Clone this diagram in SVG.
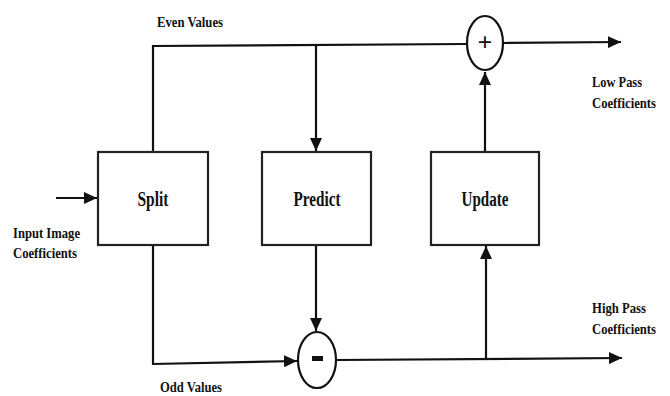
<svg xmlns="http://www.w3.org/2000/svg" width="670" height="396" viewBox="0 0 670 396">
<defs>
<marker id="ah" markerUnits="userSpaceOnUse" markerWidth="14" markerHeight="12" refX="13" refY="6" orient="auto">
<path d="M0,0 L13,6 L0,12 z" fill="#111"/>
</marker>
<style>
.box{fill:#fff;stroke:#222;stroke-width:2.2}
.op{fill:#fff;stroke:#111;stroke-width:2.2}
.ln{fill:none;stroke:#111;stroke-width:2.2}
.lbl{font-family:"Liberation Serif","Times New Roman",serif;font-weight:bold;font-size:15px;fill:#111}
.nm{font-family:"Liberation Serif","Times New Roman",serif;font-weight:bold;font-size:20px;fill:#111;text-anchor:middle}
.sym{font-family:"Liberation Serif","Times New Roman",serif;font-weight:bold;font-size:26px;fill:#111;text-anchor:middle}
</style>
</defs>
<rect width="670" height="396" fill="#fff"/>
<g id="connectors">
<polyline class="ln" points="153,152 153,46 466,44"/>
<line class="ln" x1="504" y1="43" x2="621" y2="42" marker-end="url(#ah)"/>
<line class="ln" x1="316" y1="46" x2="316" y2="151" marker-end="url(#ah)"/>
<line class="ln" x1="485" y1="152" x2="485" y2="72" marker-end="url(#ah)"/>
<line class="ln" x1="56" y1="198" x2="97" y2="198" marker-end="url(#ah)"/>
<polyline class="ln" points="153,245 153,364 297,361" marker-end="url(#ah)"/>
<line class="ln" x1="316" y1="245" x2="316" y2="331" marker-end="url(#ah)"/>
<line class="ln" x1="336" y1="360" x2="622" y2="358" marker-end="url(#ah)"/>
<line class="ln" x1="486" y1="359" x2="486" y2="246" marker-end="url(#ah)"/>
</g>
<g id="split">
<rect class="box" x="98" y="152" width="110" height="93"/>
<text class="nm" x="153" y="206" textLength="31" lengthAdjust="spacingAndGlyphs">Split</text>
</g>
<g id="predict">
<rect class="box" x="262" y="152" width="109" height="93"/>
<text class="nm" x="317" y="206" textLength="47" lengthAdjust="spacingAndGlyphs">Predict</text>
</g>
<g id="update">
<rect class="box" x="431" y="152" width="108" height="93"/>
<text class="nm" x="485" y="206" textLength="47" lengthAdjust="spacingAndGlyphs">Update</text>
</g>
<g id="plus">
<ellipse class="op" cx="485" cy="43" rx="18" ry="27"/>
<text class="sym" x="485" y="51">+</text>
</g>
<g id="minus">
<ellipse class="op" cx="317" cy="360" rx="19" ry="28"/>
<rect x="312" y="356" width="11" height="5" fill="#111"/>
</g>
<g id="labels">
<text class="lbl" x="157" y="27" textLength="66" lengthAdjust="spacingAndGlyphs">Even Values</text>
<text class="lbl" x="160" y="392" textLength="62" lengthAdjust="spacingAndGlyphs">Odd Values</text>
<text class="lbl" x="592" y="87" textLength="50" lengthAdjust="spacingAndGlyphs">Low Pass</text>
<text class="lbl" x="592" y="108" textLength="64" lengthAdjust="spacingAndGlyphs">Coefficients</text>
<text class="lbl" x="592" y="313" textLength="54" lengthAdjust="spacingAndGlyphs">High Pass</text>
<text class="lbl" x="592" y="334" textLength="64" lengthAdjust="spacingAndGlyphs">Coefficients</text>
<text class="lbl" x="13" y="238" textLength="67" lengthAdjust="spacingAndGlyphs">Input Image</text>
<text class="lbl" x="13" y="258" textLength="64" lengthAdjust="spacingAndGlyphs">Coefficients</text>
</g>
</svg>
